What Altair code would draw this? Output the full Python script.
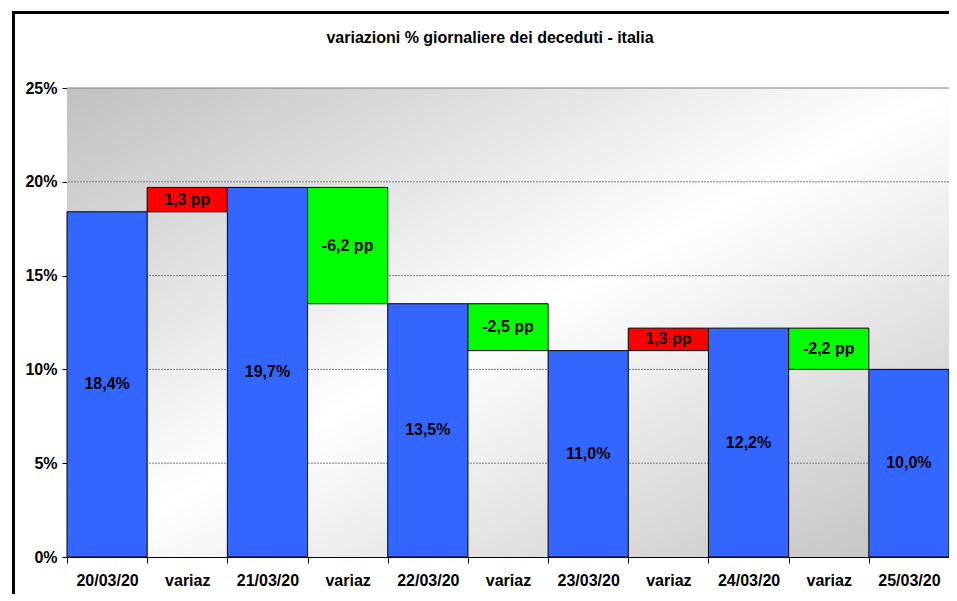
import altair as alt
import pandas as pd

# ---- data ----
dates = ["20/03/20", "21/03/20", "22/03/20", "23/03/20", "24/03/20", "25/03/20"]
date_values = [18.4, 19.7, 13.5, 11.0, 12.2, 10.0]
date_labels = ["18,4%", "19,7%", "13,5%", "11,0%", "12,2%", "10,0%"]
delta_labels = ["1,3 pp", "-6,2 pp", "-2,5 pp", "1,3 pp", "-2,2 pp"]
y_ticks = [0, 5, 10, 15, 20, 25]
grid_values = [5, 10, 15, 20]
title_text = "variazioni % giornaliere dei deceduti - italia"

FONT = "Liberation Sans"
FS = 16
W, H = 882, 469

rows = []
cats = []
for i, d in enumerate(dates):
    cats.append(d)
    rows.append({"cat": d, "y0": 0.0, "y1": date_values[i], "kind": "date", "label": date_labels[i]})
    if i < len(dates) - 1:
        a, b = date_values[i], date_values[i + 1]
        key = f"variaz{i + 1}"
        cats.append(key)
        rows.append({"cat": key, "y0": min(a, b), "y1": max(a, b),
                     "kind": "up" if b > a else "down", "label": delta_labels[i]})
df = pd.DataFrame(rows)
df["mid"] = (df["y0"] + df["y1"]) / 2

yscale = alt.Scale(domain=[0, 25], nice=False, zero=True)
xscale = alt.Scale(paddingInner=0, paddingOuter=0)

yaxis = alt.Axis(values=y_ticks, labelExpr="datum.value + '%'", grid=False, title=None,
                 tickSize=5, tickColor="black", domainColor="black",
                 labelFont=FONT, labelFontSize=FS, labelFontWeight="bold",
                 labelColor="black", labelPadding=5)
xaxis = alt.Axis(labelAngle=0, tickBand="extent", tickSize=6, tickColor="black", title=None,
                 domainColor="black", labelFont=FONT, labelFontSize=FS,
                 labelFontWeight="bold", labelColor="black", labelPadding=9,
                 labelExpr="indexof(datum.label, 'variaz') == 0 ? 'variaz' : datum.label")

one = alt.Data(values=[{"a": 1}])

bg = alt.Chart(one).mark_rect(
    fill=alt.Gradient(gradient="linear", x1=0, y1=0, x2=1, y2=1,
                      stops=[alt.GradientStop(offset=0, color="#c0c0c0"),
                             alt.GradientStop(offset=0.5, color="#ffffff"),
                             alt.GradientStop(offset=1, color="#c0c0c0")])
).encode(x=alt.value(0), x2=alt.value(W), y=alt.value(0), y2=alt.value(H))

grid = alt.Chart(pd.DataFrame({"g": grid_values})).mark_rule(
    color="#808080", strokeWidth=1, strokeDash=[2, 1]
).encode(y=alt.Y("g:Q", scale=yscale, axis=yaxis))

top = alt.Chart(one).mark_rule(color="#808080", strokeWidth=1).encode(
    x=alt.value(0), x2=alt.value(W), y=alt.value(0))

bars = alt.Chart(df).mark_bar(stroke="black", strokeWidth=1, opacity=1).encode(
    x=alt.X("cat:N", sort=cats, scale=xscale, axis=xaxis),
    y=alt.Y("y0:Q", scale=yscale, axis=yaxis),
    y2="y1:Q",
    color=alt.Color("kind:N", scale=alt.Scale(domain=["date", "up", "down"],
                                               range=["#3366FF", "#FF0000", "#00FF00"]),
                    legend=None),
)

labels = alt.Chart(df).mark_text(font=FONT, fontSize=FS, fontWeight="bold", color="black",
                                 baseline="middle").encode(
    x=alt.X("cat:N", sort=cats, scale=xscale, axis=xaxis),
    y=alt.Y("mid:Q", scale=yscale, axis=yaxis),
    text="label:N",
)

# outer frame of the chart (top and left edges; the others lie outside the window)
frame_top = alt.Chart(one).mark_rule(color="black", strokeWidth=3).encode(
    x=alt.value(-55), x2=alt.value(W), y=alt.value(-75.5))
frame_left = alt.Chart(one).mark_rule(color="black", strokeWidth=3).encode(
    x=alt.value(-53.5), y=alt.value(-77), y2=alt.value(H + 40))

chart = alt.layer(bg, grid, top, bars, labels, frame_top, frame_left).properties(
    width=W, height=H,
    title=alt.TitleParams(title_text, font=FONT, fontSize=FS, fontWeight="bold",
                          color="black", anchor="middle", frame="group", dx=-18, offset=-36),
    autosize=alt.AutoSizeParams(type="none"),
    padding={"left": 59, "top": 80, "right": 0, "bottom": 37},
).configure_view(stroke=None).configure(background="white")

chart.save("out.html", embed_options={"renderer": "svg", "actions": False})
